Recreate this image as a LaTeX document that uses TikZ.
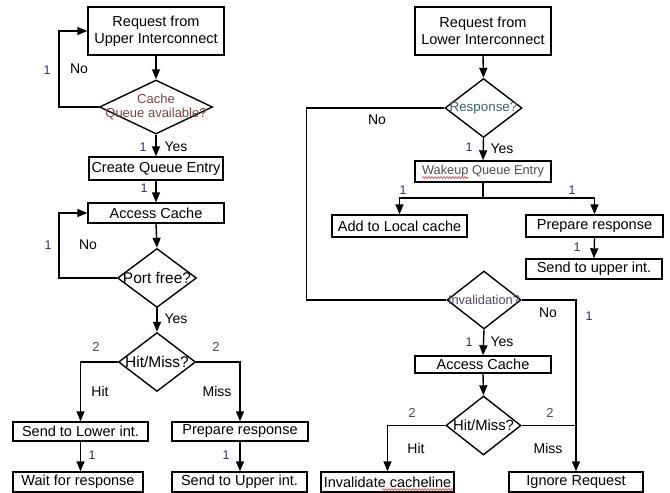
\documentclass[tikz,border=0pt]{standalone}
\usepackage{fontspec}
\setmainfont{Liberation Sans}
\usetikzlibrary{arrows.meta,shapes.geometric,decorations.pathmorphing}

\definecolor{numblue}{HTML}{2E2E7A}
\definecolor{numgray}{HTML}{4A4A4A}
\definecolor{cachered}{HTML}{7A4545}
\definecolor{resteal}{HTML}{3D6466}
\definecolor{invpurple}{HTML}{54466E}
\definecolor{wakegray}{HTML}{4E4E4E}
\definecolor{spellred}{HTML}{E03030}

\begin{document}
\begin{tikzpicture}[x=1pt,y=-1pt,
  box/.style={draw, line width=1.4pt, inner sep=0pt, align=center,
              font=\fontsize{14.5}{17}\selectfont},
  dia/.style={draw, diamond, line width=1.4pt, inner sep=0pt},
  dtxt/.style={inner sep=0pt, align=center},
  flow/.style={line width=1.4pt, -{Triangle[length=10pt,width=8pt]}},
  plain/.style={line width=1.4pt},
  lbl/.style={inner sep=0pt, font=\fontsize{14}{15}\selectfont},
  num/.style={inner sep=0pt, text=numblue, font=\fontsize{12.5}{13}\selectfont},
  numg/.style={inner sep=0pt, text=numgray, font=\fontsize{13}{14}\selectfont},
  squiggle/.style={spellred, line width=0.6pt,
                   decorate, decoration={snake, amplitude=0.9pt, segment length=3pt}},
]
\useasboundingbox (0,0) rectangle (670,493);

% ---------------- left flow: request from upper interconnect ----------------
\node[box, minimum width=136, minimum height=48] (ru) at (156,31) {Request from\\Upper Interconnect};
\node[dia, minimum width=113, minimum height=54] (cq) at (156,107) {};
\node[dtxt, text=cachered, font=\fontsize{13}{14}\selectfont] (cqt) at (cq) {Cache\\Queue available?};
\node[box, minimum width=134, minimum height=23] (cqe) at (156,168.5) {Create Queue Entry};
\node[box, minimum width=136, minimum height=20] (ac1) at (156,213) {Access Cache};
\node[dia, minimum width=79, minimum height=59] (pf) at (157,278) {};
\node[dtxt, font=\fontsize{15.5}{17}\selectfont] (pft) at (pf) {Port free?};
\node[dia, minimum width=77, minimum height=59] (hm1) at (157,362) {};
\node[dtxt, font=\fontsize{15.5}{17}\selectfont] (hm1t) at (hm1) {Hit/Miss?};
\node[box, minimum width=135, minimum height=19] (sl) at (80.5,431.5) {Send to Lower int.};
\node[box, minimum width=136, minimum height=19] (pr1) at (240,431.5) {Prepare response};
\node[box, minimum width=130, minimum height=20] (wr) at (78,482) {Wait for response};
\node[box, minimum width=135, minimum height=20] (su) at (239.5,482) {Send to Upper int.};

\draw[flow] (ru.south) -- (cq.north);
\draw[flow] (cq.west) -- ++(-40,0) |- (ru.west);
\draw[flow] (cq.south) -- (cqe.north);
\draw[flow] (cqe.south) -- (ac1.north);
\draw[flow] (ac1.south) -- (pf.north);
\draw[flow] (pf.west) -- ++(-58,0) |- (ac1.west);
\draw[flow] (pf.south) -- (hm1.north);
\draw[flow] (hm1.west) -| (sl.north);
\draw[flow] (hm1.east) -| (pr1.north);
\draw[flow] (sl.south) -- (sl.south |- wr.north);
\draw[flow] (pr1.south) -- (pr1.south |- su.north);

\node[num] at (47,70) {1};
\node[lbl] at (79,69) {No};
\node[num] at (143,147) {1};
\node[lbl] at (176,147) {Yes};
\node[num] at (144,188) {1};
\node[num] at (48,245) {1};
\node[lbl] at (88,245) {No};
\node[lbl] at (176,319) {Yes};
\node[numg] at (96,347) {2};
\node[numg] at (216,347) {2};
\node[lbl] at (100,391) {Hit};
\node[lbl] at (217,391) {Miss};
\node[num] at (92,455) {1};
\node[num] at (226,455) {1};

% ---------------- right flow: request from lower interconnect ----------------
\node[box, minimum width=136, minimum height=48] (rl) at (483,31) {Request from\\Lower Interconnect};
\node[dia, minimum width=77, minimum height=59] (rsp) at (483.5,108) {};
\node[dtxt, text=resteal, font=\fontsize{13.4}{14}\selectfont] (rspt) at (rsp) {Response?};
\node[box, minimum width=136, minimum height=21, text=wakegray,
      font=\fontsize{12.8}{14}\selectfont] (wq) at (483,171.5) {Wakeup Queue Entry};
\coordinate (split) at (483,198);
\node[box, minimum width=135, minimum height=22] (alc) at (399.5,226) {Add to Local cache};
\node[box, minimum width=137, minimum height=22] (pr2) at (594.5,226) {Prepare response};
\node[box, minimum width=136, minimum height=20] (sup) at (594,269) {Send to upper int.};
\node[dia, minimum width=74, minimum height=58] (inv) at (484,300) {};
\node[dtxt, text=invpurple, font=\fontsize{12.8}{14}\selectfont] (invt) at (inv) {Invalidation?};
\node[box, minimum width=136, minimum height=17] (ac2) at (483,364.5) {Access Cache};
\node[dia, minimum width=75, minimum height=59] (hm2) at (483.5,425.5) {};
\node[dtxt, font=\fontsize{14.8}{16}\selectfont] (hm2t) at (hm2) {Hit/Miss?};
\node[box, minimum width=133, minimum height=20] (ic) at (387.5,482) {Invalidate cacheline};
\node[box, minimum width=134, minimum height=20] (ir) at (576,482) {Ignore Request};

\draw[flow] (rl.south) -- (rsp.north);
\draw[plain] (rsp.west) -- ++(-138,0) |- (inv.west);
\draw[flow] (rsp.south) -- (wq.north);
\draw[plain] (wq.south) -- (split);
\draw[flow] (split) -| (alc.north);
\draw[flow] (split) -| (pr2.north);
\draw[flow] (pr2.south) -- (sup.north);
\draw[flow] (inv.east) -| (ir.north);
\draw[flow] (inv.south) -- (ac2.north);
\draw[flow] (ac2.south) -- (hm2.north);
\draw[flow] (hm2.west) -| (ic.north);
\draw[plain] (hm2.east) -- (hm2.east -| ir.north);

% spell-check underlines
\draw[squiggle] (422,177.5) -- (468,177.5);
\draw[squiggle] (382,489.5) -- (453,489.5);

\node[lbl] at (377,120) {No};
\node[num] at (469,147) {1};
\node[lbl] at (502,149) {Yes};
\node[num] at (403,190) {1};
\node[num] at (572,190) {1};
\node[num] at (577,247) {1};
\node[lbl] at (548,313) {No};
\node[num] at (589,316) {1};
\node[num] at (469,342) {1};
\node[lbl] at (502,342) {Yes};
\node[numg] at (412,413) {2};
\node[numg] at (550,413) {2};
\node[lbl] at (416,448) {Hit};
\node[lbl] at (548,448) {Miss};
\end{tikzpicture}
\end{document}
